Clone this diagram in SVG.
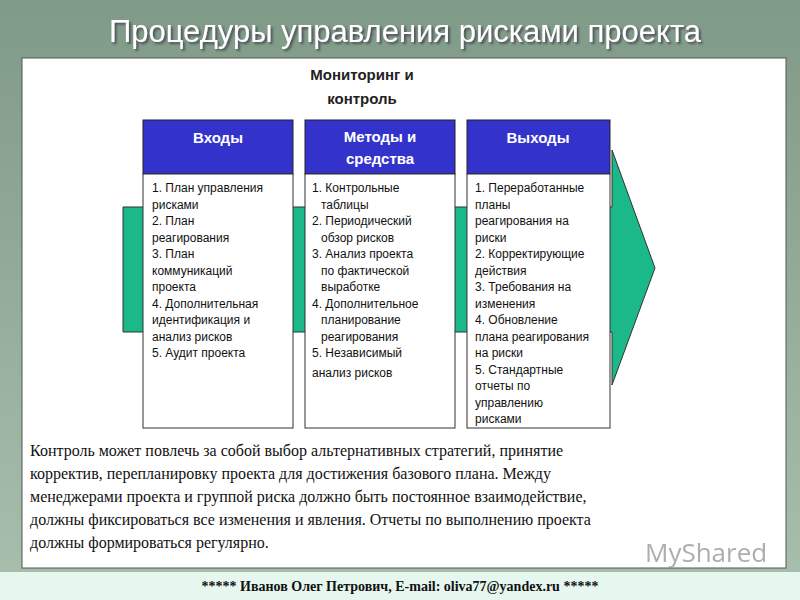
<svg xmlns="http://www.w3.org/2000/svg" width="800" height="600" viewBox="0 0 800 600">
<defs>
<linearGradient id="bg" x1="0" y1="0" x2="0" y2="1"><stop offset="0" stop-color="#7f9a86"/><stop offset="1" stop-color="#a9bfae"/></linearGradient>
<filter id="sh" x="-5%" y="-20%" width="110%" height="150%"><feDropShadow dx="2" dy="2" stdDeviation="0.8" flood-color="#445" flood-opacity="0.9"/></filter>
<style>
.t{font-family:"Liberation Sans",Arial,sans-serif;font-size:12px;fill:#111}
.h{font-family:"Liberation Sans",Arial,sans-serif;font-size:15px;font-weight:bold;fill:#fff;text-anchor:middle}
.box{fill:#fff;stroke:#333;stroke-width:1}
.hd{fill:#3333cc;stroke:#222;stroke-width:1}
.s{font-family:"Liberation Serif","Times New Roman",serif;font-size:16px;fill:#111}
</style>
</defs>
<rect width="800" height="600" fill="url(#bg)"/>
<text x="405" y="42" font-family="Liberation Sans,Arial,sans-serif" font-size="31" fill="#fff" text-anchor="middle" filter="url(#sh)">Процедуры управления рисками проекта</text>
<rect x="22" y="58" width="764" height="510" fill="#fff" stroke="#555"/>
<g id="arrow"><polygon points="123,207 612,207 612,150 655,268 612,385 612,332 123,332" fill="#1bb88a" stroke="#333"/></g>
<text x="362" y="80" font-family="Liberation Sans,Arial,sans-serif" font-size="15" font-weight="bold" fill="#222" text-anchor="middle">Мониторинг и</text>
<text x="362" y="104" font-family="Liberation Sans,Arial,sans-serif" font-size="15" font-weight="bold" fill="#222" text-anchor="middle">контроль</text>
<g id="inputs"><rect class="hd" x="143" y="120" width="150" height="54"/><text class="h" x="218" y="143">Входы</text>
<rect class="box" x="143" y="174" width="150" height="254"/>
<text class="t"><tspan x="152" y="192">1. План управления</tspan><tspan x="152" dy="16.5">рисками</tspan><tspan x="152" dy="16.5">2. План</tspan><tspan x="152" dy="16.5">реагирования</tspan><tspan x="152" dy="16.5">3. План</tspan><tspan x="152" dy="16.5">коммуникаций</tspan><tspan x="152" dy="16.5">проекта</tspan><tspan x="152" dy="16.5">4. Дополнительная</tspan><tspan x="152" dy="16.5">идентификация и</tspan><tspan x="152" dy="16.5">анализ рисков</tspan><tspan x="152" dy="16.5">5. Аудит проекта</tspan></text></g>
<g id="methods"><rect class="hd" x="305" y="120" width="150" height="54"/><text class="h" x="380" y="142">Методы и</text><text class="h" x="380" y="164">средства</text>
<rect class="box" x="305" y="174" width="150" height="254"/>
<text class="t"><tspan x="312" y="192">1.  Контрольные</tspan><tspan x="321" dy="16.5">таблицы</tspan><tspan x="312" dy="16.5">2.  Периодический</tspan><tspan x="321" dy="16.5">обзор рисков</tspan><tspan x="312" dy="16.5">3.  Анализ проекта</tspan><tspan x="321" dy="16.5">по фактической</tspan><tspan x="321" dy="16.5">выработке</tspan><tspan x="312" dy="16.5">4.  Дополнительное</tspan><tspan x="321" dy="16.5">планирование</tspan><tspan x="321" dy="16.5">реагирования</tspan><tspan x="312" dy="16.5">5. Независимый</tspan><tspan x="312" dy="20">анализ рисков</tspan></text></g>
<g id="outputs"><rect class="hd" x="467" y="120" width="143" height="54"/><text class="h" x="538" y="143">Выходы</text>
<rect class="box" x="467" y="174" width="143" height="254"/>
<text class="t"><tspan x="475" y="192">1. Переработанные</tspan><tspan x="475" dy="16.5">планы</tspan><tspan x="475" dy="16.5">реагирования на</tspan><tspan x="475" dy="16.5">риски</tspan><tspan x="475" dy="16.5">2. Корректирующие</tspan><tspan x="475" dy="16.5">действия</tspan><tspan x="475" dy="16.5">3. Требования на</tspan><tspan x="475" dy="16.5">изменения</tspan><tspan x="475" dy="16.5">4. Обновление</tspan><tspan x="475" dy="16.5">плана реагирования</tspan><tspan x="475" dy="16.5">на риски</tspan><tspan x="475" dy="16.5">5. Стандартные</tspan><tspan x="475" dy="16.5">отчеты по</tspan><tspan x="475" dy="16.5">управлению</tspan><tspan x="475" dy="16.5">рисками</tspan></text></g>
<text class="s"><tspan x="30" y="456">Контроль может повлечь за собой выбор альтернативных стратегий, принятие</tspan><tspan x="30" dy="23">корректив, перепланировку проекта для достижения базового плана. Между</tspan><tspan x="30" dy="23">менеджерами проекта и группой риска должно быть постоянное взаимодействие,</tspan><tspan x="30" dy="23">должны фиксироваться все изменения и явления. Отчеты по выполнению проекта</tspan><tspan x="30" dy="23">должны формироваться регулярно.</tspan></text>
<text x="645" y="562" font-family="Open Sans,sans-serif" font-size="26" fill="#999" opacity="0.8">MyShared</text>
<rect x="0" y="572" width="800" height="28" fill="#e6f7ef"/>
<text x="400" y="591" font-family="Liberation Serif,serif" font-size="14" font-weight="bold" fill="#111" text-anchor="middle">*****  Иванов Олег Петрович, E-mail: oliva77@yandex.ru *****</text>
</svg>
